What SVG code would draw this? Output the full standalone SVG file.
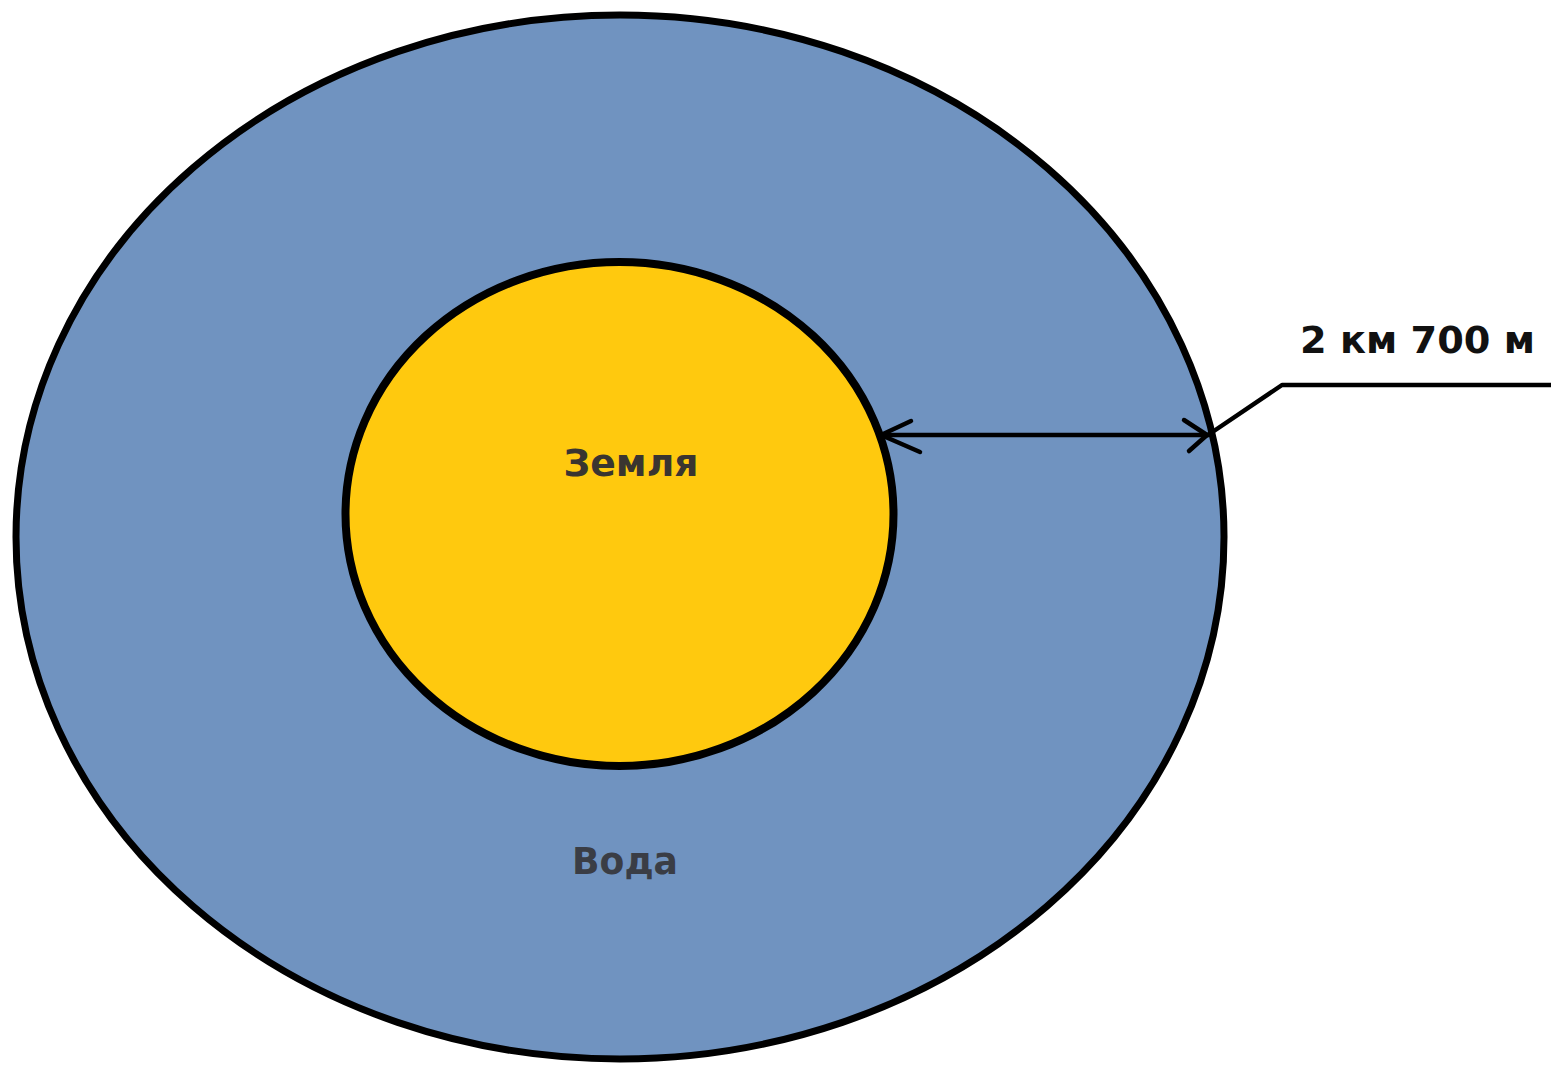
<svg xmlns="http://www.w3.org/2000/svg" width="1551" height="1067" viewBox="0 0 1551 1067">
<style>
.lbl{font-family:"DejaVu Sans","Verdana",sans-serif;font-weight:bold;font-size:38px}
.ln{fill:none;stroke:#000;stroke-width:4.5;stroke-linecap:round;stroke-linejoin:round}
</style>
<rect width="1551" height="1067" fill="#fff"/>
<g id="water">
<ellipse cx="620" cy="537" rx="604" ry="522" fill="#7093C0" stroke="#000" stroke-width="7"/>
<text class="lbl" x="625" y="874" text-anchor="middle" fill="#3a3d45" textLength="106" lengthAdjust="spacingAndGlyphs">Вода</text>
</g>
<g id="land">
<ellipse cx="619.5" cy="514" rx="274" ry="252" fill="#FFC90E" stroke="#000" stroke-width="8"/>
<text class="lbl" x="631" y="476" text-anchor="middle" fill="#3a3530" textLength="135" lengthAdjust="spacingAndGlyphs">Земля</text>
</g>
<g id="connectors">
<path class="ln" d="M880 435 H1208"/>
<path class="ln" d="M911 421 L881 435 L920 452"/>
<path class="ln" d="M1184 420 L1207 435 L1189 451"/>
<path class="ln" d="M1208 435 L1282 385 H1551"/>
</g>
<g id="dimension">
<text class="lbl" x="1300" y="353" fill="#111" textLength="235" lengthAdjust="spacingAndGlyphs">2 км 700 м</text>
</g>
</svg>
